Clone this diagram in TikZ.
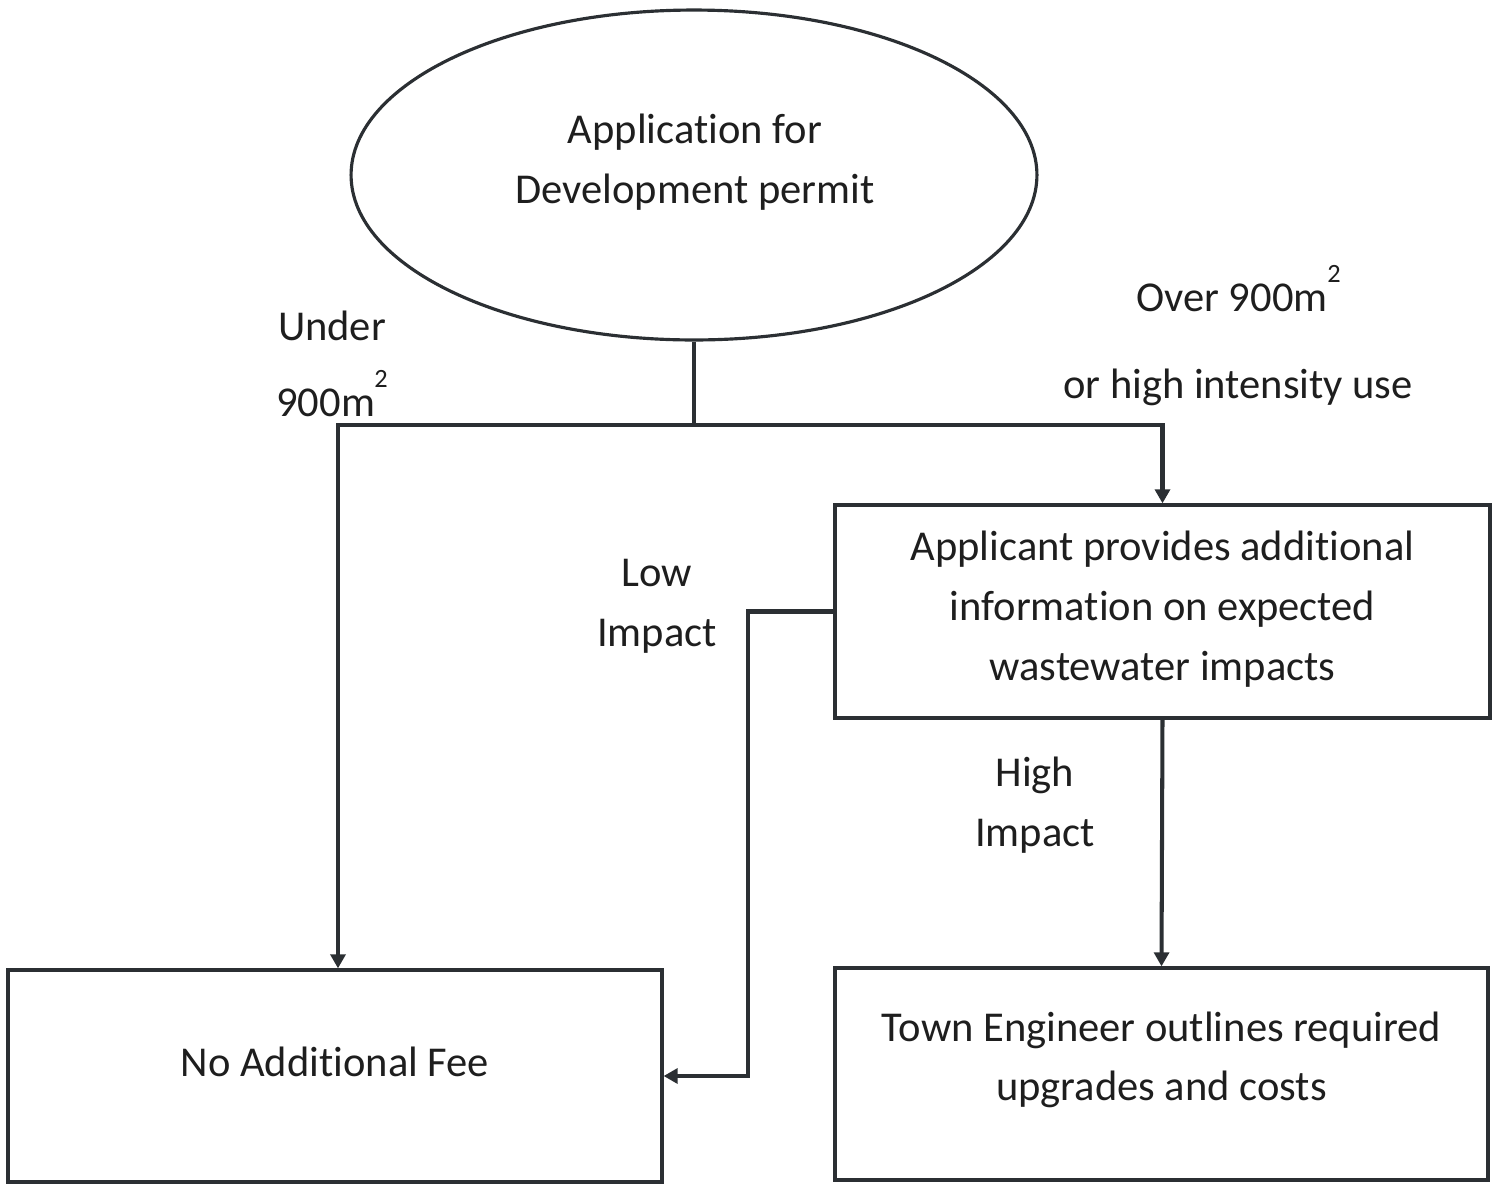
\documentclass[tikz,border=0pt]{standalone}
\usepackage{fontspec}
\setmainfont{Carlito}[RawFeature={-liga;-dlig;-calt;-clig}]
\usetikzlibrary{shapes.geometric,arrows.meta}
\definecolor{ln}{HTML}{2B2F33}
\definecolor{tx}{HTML}{1E1E1E}
\begin{document}
\begin{tikzpicture}[x=0.02cm,y=-0.02cm,
  every node/.style={text=tx,font=\fontsize{24.2}{34}\selectfont},
  boxshape/.style={draw=ln,line width=1.9pt,rectangle,inner sep=0pt},
  oval/.style={draw=ln,line width=1.8pt,ellipse,inner sep=0pt,minimum width=13.72cm,minimum height=6.6cm},
  conn/.style={draw=ln,line width=2.3pt},
  arr/.style={conn,-{Triangle[length=8pt,width=8.5pt]}},
  lbl/.style={inner sep=0pt,anchor=base},
  txt/.style={inner sep=0pt,align=center}]
\useasboundingbox (0,0) rectangle (1499,1184);
% shapes
\node[oval] (app) at (694,175) {};
\node[txt] (apptxt) at (695,162) {Applicat\kern0pt ion for\\Development permit};
\node[boxshape,minimum width=13.1cm,minimum height=4.26cm] (box1) at (1162.5,611.5) {};
\node[txt] (box1txt) at (1162.5,609) {Applicant provides addit\kern0pt ional\\informat\kern0pt ion on expected\\wastewater impacts};
\node[boxshape,minimum width=13.08cm,minimum height=4.24cm] (box2) at (335,1076) {};
\node[txt] (box2txt) at (335,1062) {No Additional Fee};
\node[boxshape,minimum width=13.06cm,minimum height=4.24cm] (box3) at (1161.5,1074) {};
\node[txt] (box3txt) at (1161.5,1060) {Town Engineer outlines required\\upgrades and costs};
% junction coordinates
\coordinate (j) at (app.south |- 0,425);
\coordinate (jl) at (338,425);
\coordinate (lowc) at (748,611.5);
% connectors
\draw[conn] (app.south) -- (j);
\draw[arr] (j) -- (jl) -- (box2.north -| jl);
\draw[arr] (j) -| (box1.north);
\draw[arr] (box1.west) -- (lowc) |- (box2.east);
\draw[arr] (box1.south) -- (box3.north);
% labels
\node[lbl] (under) at (332,340) {Under};
\node[lbl,anchor=base west] (u900) at (276,416) {900m};
\node[lbl,anchor=base west,font=\fontsize{15}{15}\selectfont] (u2) at (374,387) {2};
\node[lbl,anchor=base west] (o900) at (1136,311) {Over 900m};
\node[lbl,anchor=base west,font=\fontsize{15}{15}\selectfont] (o2) at (1327,282) {2};
\node[lbl] (ohi) at (1238,398) {or high intensity use};
\node[lbl] (low1) at (657,586) {Low};
\node[lbl] (low2) at (657,646) {Impact};
\node[lbl] (high1) at (1035,786) {High};
\node[lbl] (high2) at (1035,846) {Impact};
\end{tikzpicture}
\end{document}
